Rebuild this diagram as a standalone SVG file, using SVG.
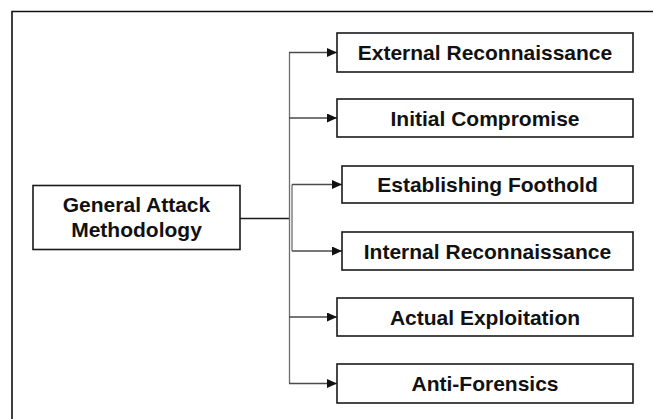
<svg xmlns="http://www.w3.org/2000/svg" width="653" height="419" viewBox="0 0 653 419">
  <style>
    .box { fill: #ffffff; stroke: #1a1a1a; stroke-width: 1.6; }
    .label { font-family: "Liberation Sans", Arial, sans-serif; font-weight: bold; font-size: 21px; fill: #111111; text-anchor: middle; }
    .link { fill: none; stroke: #6e6e6e; stroke-width: 1.3; }
    .branch { fill: none; stroke: #4a4a4a; stroke-width: 1.3; marker-end: url(#arrow); }
  </style>
  <defs>
    <marker id="arrow" markerUnits="userSpaceOnUse" markerWidth="11" markerHeight="10" refX="10" refY="4.5" orient="auto">
      <path d="M0,0 L10,4.5 L0,9 Z" fill="#111111"/>
    </marker>
  </defs>

  <rect width="653" height="419" fill="#ffffff"/>

  <!-- outer frame (top and left edges) -->
  <path d="M12,419 V11.5 H653" fill="none" stroke="#111111" stroke-width="1.6"/>

  <!-- connectors -->
  <g id="connectors">
    <line x1="240" y1="218.5" x2="290" y2="218.5" stroke="#1a1a1a" stroke-width="1.5"/>
    <line class="link" x1="289.5" y1="52.5" x2="289.5" y2="383.5"/>
    <line class="link" x1="292" y1="184.5" x2="292" y2="251"/>
    <line class="branch" x1="289" y1="52.5" x2="337" y2="52.5"/>
    <line class="branch" x1="289" y1="118" x2="337" y2="118"/>
    <line class="branch" x1="292" y1="184.5" x2="342" y2="184.5"/>
    <line class="branch" x1="292" y1="251" x2="342" y2="251"/>
    <line class="branch" x1="289" y1="317" x2="337" y2="317"/>
    <line class="branch" x1="289" y1="383.5" x2="337" y2="383.5"/>
  </g>

  <g id="general-attack-methodology">
    <rect class="box" x="33" y="185.5" width="207" height="64"/>
    <text class="label" x="136.5" y="212">General Attack</text>
    <text class="label" x="136.5" y="237">Methodology</text>
  </g>

  <g id="external-reconnaissance">
    <rect class="box" x="337" y="33" width="296" height="39"/>
    <text class="label" x="485" y="60">External Reconnaissance</text>
  </g>

  <g id="initial-compromise">
    <rect class="box" x="337" y="99" width="296" height="38"/>
    <text class="label" x="485" y="125.5">Initial Compromise</text>
  </g>

  <g id="establishing-foothold">
    <rect class="box" x="342" y="166" width="291" height="37"/>
    <text class="label" x="487.5" y="192">Establishing Foothold</text>
  </g>

  <g id="internal-reconnaissance">
    <rect class="box" x="342" y="232" width="291" height="38"/>
    <text class="label" x="487.5" y="258.5">Internal Reconnaissance</text>
  </g>

  <g id="actual-exploitation">
    <rect class="box" x="337" y="298" width="296" height="38"/>
    <text class="label" x="485" y="324.5">Actual Exploitation</text>
  </g>

  <g id="anti-forensics">
    <rect class="box" x="337" y="364" width="296" height="39"/>
    <text class="label" x="485" y="391">Anti-Forensics</text>
  </g>
</svg>
